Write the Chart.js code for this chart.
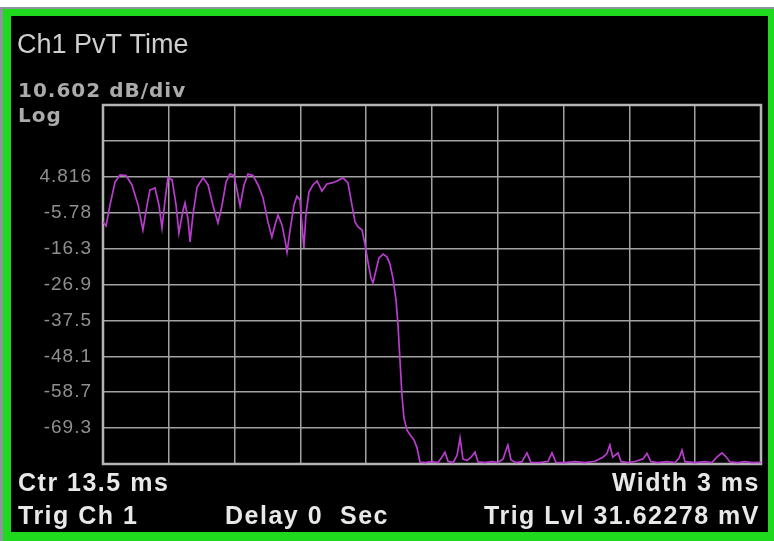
<!DOCTYPE html>
<html>
<head>
<meta charset="utf-8">
<script src="https://cdn.jsdelivr.net/npm/chart.js@4/dist/chart.umd.min.js"></script>
<style>
  html, body { margin:0; padding:0; background:#ffffff; width:774px; height:541px; overflow:hidden; }
  #outer { position:absolute; left:0; top:7px; width:774px; height:534px; background:#8a969c; }
  #green { position:absolute; left:3px; top:2px; right:0; bottom:0; border-style:solid; border-color:#1fd91f; border-width:7px 6px 9px 8px; background:#000; }
  #c { position:absolute; left:0; top:0; }
</style>
</head>
<body>
<div id="outer"><div id="green"></div></div>
<canvas id="c" width="774" height="541"></canvas>
<script>
// ---- data (time in ms, level in dB) ----
const traceTimeMs = [
  12.000,12.014,12.032,12.055,12.078,12.105,12.132,12.160,12.182,12.201,
  12.214,12.237,12.255,12.269,12.283,12.296,12.315,12.333,12.346,12.365,
  12.374,12.388,12.397,12.410,12.429,12.456,12.479,12.501,12.524,12.543,
  12.561,12.579,12.597,12.611,12.625,12.643,12.661,12.684,12.707,12.729,
  12.752,12.770,12.784,12.798,12.816,12.830,12.839,12.853,12.871,12.884,
  12.898,12.907,12.916,12.925,12.939,12.957,12.976,12.998,13.021,13.044,
  13.067,13.094,13.117,13.135,13.149,13.163,13.181,13.195,13.208,13.222,
  13.231,13.245,13.258,13.277,13.295,13.308,13.322,13.336,13.345,13.354,
  13.363,13.372,13.386,13.404,13.418,13.432,13.445,
  13.468,13.500,13.527,13.545,13.559,13.573,13.596,13.614,13.628,13.641,
  13.660,13.678,13.696,13.710,13.741,13.773,13.801,13.824,13.837,13.846,
  13.860,13.883,13.910,13.933,13.951,13.992,14.029,14.047,14.065,14.106,
  14.152,14.197,14.243,14.279,14.297,14.311,14.324,14.348,14.362,14.394,
  14.430,14.462,14.480,14.498,14.530,14.571,14.608,14.626,14.640,14.653,
  14.699,14.744,14.776,14.799,14.822,14.840,14.858,14.895,14.927,14.959,
  15.000
];
const traceLevelDb = [
  -8.5,-9.7,-3.5,3.3,5.4,5.2,2.4,-3.5,-10.9,-3.5,
  0.9,1.5,-3.5,-10.3,-2.0,4.5,3.9,-3.5,-11.8,-5.0,
  -2.9,-7.9,-14.4,-6.5,1.8,4.5,2.4,-3.5,-8.8,-3.5,
  3.3,5.6,5.2,0.9,-3.8,2.4,5.6,5.2,2.4,-1.2,
  -8.5,-13.0,-9.4,-6.5,-9.4,-13.9,-17.4,-10.9,-3.5,-0.9,
  -2.0,-9.4,-16.2,-6.5,0.3,2.4,3.6,0.6,2.7,3.0,
  3.6,4.5,3.0,-3.5,-8.5,-10.0,-10.9,-15.3,-20.3,-25.1,
  -26.5,-22.7,-19.2,-18.0,-18.9,-20.9,-25.1,-31.6,-39.0,-49.3,
  -59.6,-66.4,-70.0,-71.7,-72.9,-75.3,-79.4,
  -79.6,-79.3,-79.6,-78.0,-76.5,-79.2,-79.6,-77.5,-72.3,-78.5,
  -79.0,-78.0,-76.5,-79.4,-79.6,-79.3,-79.6,-78.5,-76.0,-74.4,
  -78.8,-79.6,-79.3,-76.7,-79.5,-79.6,-79.2,-76.7,-79.5,-79.6,
  -79.3,-79.6,-79.2,-78.0,-77.0,-74.4,-78.0,-76.7,-79.3,-79.6,
  -79.2,-78.5,-76.9,-79.3,-79.6,-79.3,-79.6,-78.3,-75.9,-79.3,
  -79.6,-79.3,-79.6,-78.0,-76.7,-77.8,-79.4,-79.6,-79.3,-79.6,
  -79.5
];
// ---- axes ----
const xStartMs = 12, xEndMs = 15, xDivisions = 10;
const yTopDb = 26.02, yBottomDb = -80.0, dbPerDiv = 10.602;
const yTickValues = [4.816, -5.786, -16.388, -26.99, -37.592, -48.194, -58.796, -69.398];
const yTickLabels = ['4.816', '-5.78', '-16.3', '-26.9', '-37.5', '-48.1', '-58.7', '-69.3'];
// ---- texts ----
const titleText = 'Ch1 PvT Time';
const scaleTexts = ['10.602 dB/div', 'Log'];
const footerLeft = ['Ctr 13.5 ms', 'Trig Ch 1'];
const footerMid = ['Delay 0  Sec'];
const footerRight = ['Width 3 ms', 'Trig Lvl 31.62278 mV'];

const points = traceTimeMs.map((t, i) => ({ x: t, y: traceLevelDb[i] }));

const spacingPlugin = {
  id: 'spacing',
  beforeDraw(chart) { chart.ctx.letterSpacing = '1px'; },
  beforeDatasetsDraw(chart) {
    const { ctx, chartArea: a } = chart;
    ctx.save();
    ctx.strokeStyle = '#b4b4b4';
    ctx.lineWidth = 2.5;
    ctx.strokeRect(a.left, a.top, a.right - a.left, a.bottom - a.top);
    ctx.restore();
  },
  afterDraw(chart) {
    const ctx = chart.ctx;
    ctx.save();
    ctx.textBaseline = 'alphabetic';
    ctx.letterSpacing = '0px';
    ctx.fillStyle = '#cfcfcf';
    ctx.font = '27px "Liberation Sans", Arial, sans-serif';
    ctx.textAlign = 'left';
    ctx.fillText(titleText, 17, 53);

    ctx.letterSpacing = '1px';
    ctx.fillStyle = '#ababab';
    ctx.font = 'bold 20px "DejaVu Sans", sans-serif';
    ctx.fillText(scaleTexts[0], 18, 97);
    ctx.fillText(scaleTexts[1], 18, 122);

    ctx.letterSpacing = '1.5px';
    ctx.fillStyle = '#e8e8e8';
    ctx.font = 'bold 25px "Liberation Sans", Arial, sans-serif';
    ctx.fillText(footerLeft[0], 18, 491);
    ctx.fillText(footerLeft[1], 18, 524);
    ctx.fillText(footerMid[0], 225, 524);
    ctx.textAlign = 'right';
    ctx.fillText(footerRight[0], 760, 491);
    ctx.fillText(footerRight[1], 760, 524);
    ctx.restore();
  }
};

new Chart(document.getElementById('c'), {
  type: 'line',
  data: {
    datasets: [{
      data: points,
      borderColor: '#b83ccd',
      borderWidth: 1.7,
      pointRadius: 0,
      tension: 0,
      fill: false
    }]
  },
  options: {
    responsive: false,
    animation: false,
    devicePixelRatio: 1,
    layout: { padding: { top: 105, right: 13, bottom: 77, left: 0 } },
    plugins: { legend: { display: false }, tooltip: { enabled: false }, title: { display: false } },
    scales: {
      x: {
        type: 'linear',
        min: xStartMs, max: xEndMs,
        afterBuildTicks(s) {
          const step = (xEndMs - xStartMs) / xDivisions;
          s.ticks = Array.from({ length: xDivisions + 1 }, (_, i) => ({ value: xStartMs + i * step }));
        },
        afterFit(s) { s.height = 0; },
        ticks: { display: false },
        grid: { color: '#a2a2a2', lineWidth: 1.5, drawTicks: false },
        border: { display: false }
      },
      y: {
        type: 'linear',
        min: yBottomDb, max: yTopDb,
        afterBuildTicks(s) {
          const n = Math.round((yTopDb - yBottomDb) / dbPerDiv);
          s.ticks = Array.from({ length: n + 1 }, (_, i) => ({ value: yBottomDb + i * dbPerDiv }));
        },
        afterFit(s) { s.width = 103; },
        ticks: {
          padding: 11,
          color: '#8f8f8f',
          font: { family: '"Liberation Sans", Arial, sans-serif', size: 19 },
          callback(v) {
            const idx = yTickValues.findIndex(t => Math.abs(t - v) < 0.05);
            return idx >= 0 ? yTickLabels[idx] : '';
          }
        },
        grid: { color: '#a2a2a2', lineWidth: 1.5, drawTicks: false },
        border: { display: false }
      }
    }
  },
  plugins: [spacingPlugin]
});
</script>
</body>
</html>
